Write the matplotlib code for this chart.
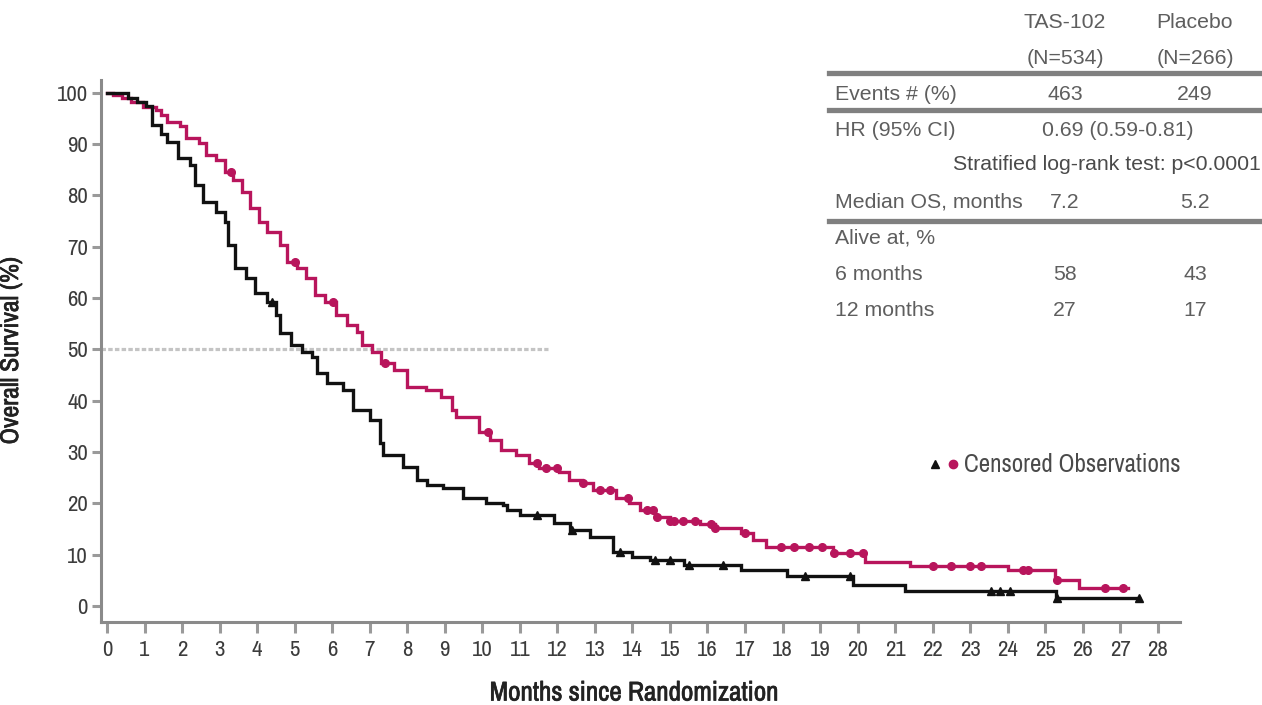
import matplotlib
matplotlib.use("Agg")
import matplotlib.pyplot as plt
from matplotlib.lines import Line2D
import matplotlib.patheffects as pe
import numpy as np

# ---------------- data ----------------
tas_times = [0, 0.15, 0.4, 0.65, 0.95, 1.3, 1.45, 1.6, 1.95, 2.1, 2.45, 2.65, 2.9, 3.15, 3.35,
             3.6, 3.8, 4.05, 4.25, 4.6, 4.8, 5.05, 5.3, 5.55, 5.8, 6.1, 6.4, 6.65, 6.8, 7.05,
             7.3, 7.65, 8.0, 8.5, 8.9, 9.2, 9.3, 9.9, 10.2, 10.5, 10.9, 11.25, 11.5, 12.05,
             12.3, 12.65, 12.95, 13.55, 13.9, 14.2, 14.6, 15.0, 15.8, 16.2, 16.9, 17.2, 17.55,
             19.35, 20.2, 21.4, 24.0, 25.25, 25.9, 27.2]
tas_surv = [100, 99.6, 99.0, 98.2, 97.3, 96.7, 95.7, 94.3, 93.6, 91.2, 90.3, 87.9, 86.9, 84.6, 83.0,
            80.7, 77.6, 74.9, 72.9, 70.4, 67.0, 65.9, 63.9, 60.6, 59.3, 56.7, 54.8, 53.4, 50.9, 49.5,
            47.4, 46.0, 42.7, 42.1, 40.7, 38.2, 36.8, 33.9, 32.4, 30.4, 29.4, 27.9, 26.9, 26.1,
            24.6, 24.0, 22.6, 21.0, 20.1, 18.7, 17.3, 16.6, 16.0, 15.2, 14.2, 12.9, 11.5,
            10.4, 8.6, 7.8, 7.0, 5.0, 3.6, 3.6]

pbo_times = [0, 0.55, 0.8, 1.05, 1.2, 1.45, 1.6, 1.9, 2.2, 2.35, 2.55, 2.9, 3.15, 3.22, 3.4, 3.7,
             3.95, 4.25, 4.5, 4.6, 4.9, 5.2, 5.45, 5.6, 5.86, 6.29, 6.55, 7.0, 7.27, 7.35, 7.89,
             8.26, 8.52, 8.95, 9.48, 10.1, 10.55, 10.65, 11.0, 11.9, 12.33, 12.87, 13.48, 14.0,
             14.46, 15.37, 16.9, 18.13, 19.87, 21.25, 25.28, 27.5]
pbo_surv = [100, 99.0, 98.2, 97.5, 93.8, 92.0, 90.4, 87.3, 86.0, 82.0, 78.8, 76.8, 74.9, 70.4, 65.9, 63.9,
            61.0, 59.3, 56.7, 53.2, 50.9, 49.5, 48.5, 45.4, 43.5, 42.1, 38.2, 36.3, 31.8, 29.4, 27.1,
            24.6, 23.6, 23.0, 21.0, 20.1, 19.7, 18.7, 17.7, 16.2, 14.8, 13.5, 10.5, 9.6,
            9.0, 8.0, 7.0, 5.8, 4.1, 2.9, 1.6, 1.6]

tas_censor = [3.3, 5.0, 6.02, 7.4, 10.15, 11.45, 11.7, 11.98, 12.68, 13.13, 13.4, 13.88, 14.4, 14.55,
              14.65, 15.0, 15.1, 15.35, 15.66, 16.1, 16.2, 17.0, 17.95, 18.3, 18.7, 19.05, 19.37,
              19.8, 20.14, 22.0, 22.5, 23.0, 23.3, 24.4, 24.55, 25.3, 26.6, 27.07]
pbo_censor = [4.4, 11.45, 12.4, 13.67, 14.6, 15.0, 15.5, 16.4, 18.6, 19.8, 23.55, 23.8, 24.05,
              25.3, 27.5]

x_ticks = list(range(0, 29))
y_ticks = list(range(0, 101, 10))

table_cols = ["TAS-102", "Placebo"]
table_n = ["(N=534)", "(N=266)"]
events = ["463", "249"]
hr_text = "0.69 (0.59-0.81)"
logrank_text = "Stratified log-rank test: p<0.0001"
median_os = ["7.2", "5.2"]
alive_6 = ["58", "43"]
alive_12 = ["27", "17"]

# ---------------- style ----------------
W, H = 1262, 705
MAG = "#b8155c"
NARROW = ["Archivo Narrow", "Liberation Sans", "DejaVu Sans"]
REG = ["Liberation Sans", "DejaVu Sans"]
TXT = "#5e5e5e"
LAB = "#222222"
fake_bold = [pe.withStroke(linewidth=0.5, foreground=LAB)]

fig = plt.figure(figsize=(W / 100, H / 100), dpi=100)
L, R, T, B = 101, 1180, 80, 622
ax = fig.add_axes([L / W, 1 - B / H, (R - L) / W, (B - T) / H])

def step_eval(times, surv, t):
    idx = np.searchsorted(times, t, side="right") - 1
    return np.array(surv)[idx]

ax.plot(tas_times, tas_surv, drawstyle="steps-post", color=MAG, lw=2.4, zorder=3,
        solid_joinstyle="miter")
ax.plot(pbo_times, pbo_surv, drawstyle="steps-post", color="#111111", lw=2.4, zorder=4,
        solid_joinstyle="miter")
ax.plot(tas_censor, step_eval(tas_times, tas_surv, tas_censor), "o", color=MAG, ms=5.5,
        mec=MAG, zorder=5)
ax.plot(pbo_censor, step_eval(pbo_times, pbo_surv, pbo_censor), "^", color="#111111", ms=6,
        zorder=6)

ax.plot([-0.16, 11.75], [50, 50], color="#c4c4c4", lw=2.3, ls=(0, (1.4, 0.7)), zorder=2)

ax.set_xlim(-0.16, 28.59)
ax.set_ylim(-3.1, 102.5)
ax.set_xticks(x_ticks)
ax.set_yticks(y_ticks)
for s in ["top", "right"]:
    ax.spines[s].set_visible(False)
for s in ["left", "bottom"]:
    ax.spines[s].set_color("#8a8a8a")
    ax.spines[s].set_linewidth(2.2)
ax.tick_params(axis="y", length=6.5, width=2.2, color="#9a9a9a", pad=3, labelsize=16.5,
               labelcolor="#3c3c3c")
ax.tick_params(axis="x", length=8, width=2.2, color="#9a9a9a", pad=5, labelsize=16.5,
               labelcolor="#3c3c3c")
for lab in ax.get_xticklabels() + ax.get_yticklabels():
    lab.set_family(NARROW)

ax.set_ylabel("Overall Survival (%)", family=NARROW, fontweight="bold", fontsize=18.5,
              color=LAB, path_effects=fake_bold)
ax.yaxis.set_label_coords((22 - L) / (R - L), 0.5)
ax.set_xlabel("Months since Randomization", family=NARROW, fontweight="bold", fontsize=19.5,
              color=LAB, va="center", path_effects=fake_bold)
ax.xaxis.set_label_coords((634 - L) / (R - L), (B - 693) / (B - T))

# legend for censored marks
def fx(px):
    return px / W
def fy(py):
    return 1 - py / H

fig.add_artist(Line2D([fx(935)], [fy(464)], marker="^", color="#111111", ms=6, ls="none"))
fig.add_artist(Line2D([fx(953)], [fy(464)], marker="o", color=MAG, ms=6, ls="none"))
fig.text(fx(964), fy(464), "Censored Observations", family=NARROW, fontsize=18,
         color="#4a4a4a", va="center", ha="left")

# table
c1, c2 = 1065, 1195
fs = 15.3
fig.text(fx(c1), fy(22), table_cols[0], family=REG, fontsize=fs, color=TXT, ha="center", va="center")
fig.text(fx(c2), fy(22), table_cols[1], family=REG, fontsize=fs, color=TXT, ha="center", va="center")
fig.text(fx(c1), fy(58), table_n[0], family=REG, fontsize=fs, color=TXT, ha="center", va="center")
fig.text(fx(c2), fy(58), table_n[1], family=REG, fontsize=fs, color=TXT, ha="center", va="center")
for yy in [73, 110, 221]:
    fig.add_artist(Line2D([fx(829), fx(1262)], [fy(yy), fy(yy)], color="#808080", lw=3.8))
lx = 835
fig.text(fx(lx), fy(95), "Events # (%)", family=REG, fontsize=fs, color=TXT, va="center")
fig.text(fx(c1), fy(95), events[0], family=REG, fontsize=fs, color=TXT, ha="center", va="center")
fig.text(fx(c2), fy(95), events[1], family=REG, fontsize=fs, color=TXT, ha="center", va="center")
fig.text(fx(lx), fy(130), "HR (95% CI)", family=REG, fontsize=fs, color=TXT, va="center")
fig.text(fx(1118), fy(130), hr_text, family=REG, fontsize=fs, color=TXT, ha="center", va="center")
fig.text(fx(1261), fy(165), logrank_text, family=REG, fontsize=fs, color="#4a4a4a", ha="right",
         va="center")
fig.text(fx(lx), fy(202), "Median OS, months", family=REG, fontsize=fs, color=TXT, va="center")
fig.text(fx(c1), fy(202), median_os[0], family=REG, fontsize=fs, color=TXT, ha="center", va="center")
fig.text(fx(c2), fy(202), median_os[1], family=REG, fontsize=fs, color=TXT, ha="center", va="center")
fig.text(fx(lx), fy(238), "Alive at, %", family=REG, fontsize=fs, color=TXT, va="center")
fig.text(fx(lx), fy(275), "6 months", family=REG, fontsize=fs, color=TXT, va="center")
fig.text(fx(c1), fy(275), alive_6[0], family=REG, fontsize=fs, color=TXT, ha="center", va="center")
fig.text(fx(c2), fy(275), alive_6[1], family=REG, fontsize=fs, color=TXT, ha="center", va="center")
fig.text(fx(lx), fy(310), "12 months", family=REG, fontsize=fs, color=TXT, va="center")
fig.text(fx(c1), fy(310), alive_12[0], family=REG, fontsize=fs, color=TXT, ha="center", va="center")
fig.text(fx(c2), fy(310), alive_12[1], family=REG, fontsize=fs, color=TXT, ha="center", va="center")

fig.savefig("out.png", dpi=100)
